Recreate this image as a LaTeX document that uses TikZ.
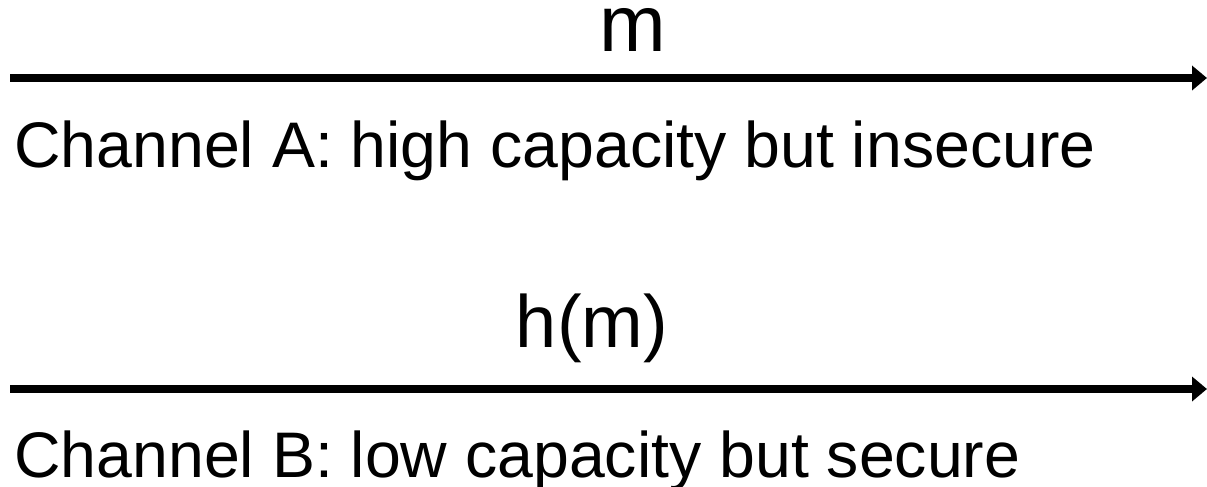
\documentclass[tikz,border=0pt]{standalone}
\usepackage{fontspec}
\setmainfont{Liberation Sans}
\usetikzlibrary{arrows.meta}
\begin{document}
\begin{tikzpicture}[x=0.5pt,y=-0.5pt,
  chan/.style={line width=4pt,-{Triangle[length=7.5pt,width=12pt]}},
  lab/.style={inner sep=0pt,anchor=base west,font=\fontsize{32.2pt}{38pt}\selectfont},
  msg/.style={inner sep=0pt,anchor=base}]
\useasboundingbox (0,0) rectangle (1207,487);
\coordinate (a1) at (10,78);
\coordinate (a2) at (1207,78);
\coordinate (b1) at (10,389);
\coordinate (b2) at (1207,389);
\draw[chan] (a1) -- (a2);
\draw[chan] (b1) -- (b2);
\node[msg,font=\fontsize{40pt}{44pt}\selectfont] (m) at (633,52) {m};
\node[msg,font=\fontsize{37pt}{42pt}\selectfont] (hm) at (592,347) {h(m)};
\node[lab] (ca) at (14,167) {Channel A: high capacity but insecure};
\node[lab] (cb) at (14,477) {Channel B: low capacity but secure};
\end{tikzpicture}
\end{document}
